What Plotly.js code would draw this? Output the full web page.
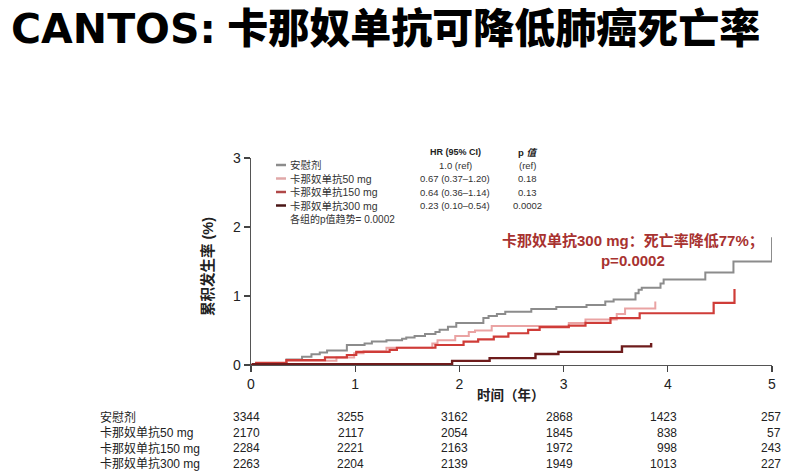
<!DOCTYPE html>
<html>
<head>
<meta charset="utf-8">
<script src="https://cdn.plot.ly/plotly-3.0.1.min.js"></script>
<style>html,body{margin:0;padding:0;background:#fff;}#chart{width:796px;height:475px;}</style>
</head>
<body>
<div id="chart"></div>
<script>
// ---- data ----
const groupNames = ["安慰剂", "卡那奴单抗50 mg", "卡那奴单抗150 mg", "卡那奴单抗300 mg"];
const placeboT = [0, 0.10, 0.34, 0.49, 0.58, 0.66, 0.73, 0.92, 1.09, 1.16, 1.30, 1.45, 1.49, 1.57, 1.67, 1.77, 1.81, 1.89, 1.97, 2.23, 2.28, 2.36, 2.44, 2.69, 2.93, 3.22, 3.40, 3.48, 3.69, 3.72, 3.75, 3.93, 3.96, 4.36, 4.63, 5.00];
const placeboV = [0, 0.02, 0.08, 0.12, 0.155, 0.18, 0.21, 0.29, 0.31, 0.34, 0.36, 0.38, 0.40, 0.42, 0.45, 0.48, 0.51, 0.555, 0.61, 0.68, 0.71, 0.74, 0.77, 0.81, 0.84, 0.87, 0.92, 0.95, 1.04, 1.09, 1.12, 1.18, 1.24, 1.34, 1.50, 1.85];
const dose50T = [0, 0.05, 0.34, 0.82, 0.99, 1.08, 1.30, 1.74, 1.79, 1.96, 2.09, 2.15, 2.31, 3.05, 3.21, 3.51, 3.59, 3.88];
const dose50V = [0, 0.03, 0.06, 0.11, 0.17, 0.20, 0.25, 0.31, 0.36, 0.42, 0.48, 0.50, 0.565, 0.61, 0.66, 0.74, 0.82, 0.92];
const dose150T = [0, 0.05, 0.34, 0.71, 0.92, 1.01, 1.33, 1.40, 1.77, 2.04, 2.18, 2.33, 2.47, 2.66, 2.77, 3.05, 3.21, 3.45, 3.73, 4.44, 4.64];
const dose150V = [0, 0.03, 0.07, 0.11, 0.145, 0.19, 0.22, 0.25, 0.29, 0.34, 0.37, 0.41, 0.46, 0.51, 0.55, 0.57, 0.61, 0.68, 0.75, 0.90, 1.10];
const dose300T = [0, 0.02, 1.93, 2.29, 2.73, 2.95, 3.56, 3.84];
const dose300V = [0, 0.01, 0.06, 0.10, 0.16, 0.19, 0.27, 0.32];
const hrText = ["1.0 (ref)", "0.67 (0.37–1.20)", "0.64 (0.36–1.14)", "0.23 (0.10–0.54)"];
const pText = ["(ref)", "0.18", "0.13", "0.0002"];
const riskTimes = [0, 1, 2, 3, 4, 5];
const riskPlacebo = [3344, 3255, 3162, 2868, 1423, 257];
const risk50 = [2170, 2117, 2054, 1845, 838, 57];
const risk150 = [2284, 2221, 2163, 1972, 998, 243];
const risk300 = [2263, 2204, 2139, 1949, 1013, 227];
const xTicks = [0, 1, 2, 3, 4, 5];
const yTicks = [0, 1, 2, 3];

// ---- styling / layout helpers ----
const colors = ["#8c8c8c", "#eaa3a3", "#cf3c38", "#6e1c1c"];
const legendColors = ["#8c8c8c", "#e0a8a8", "#b04848", "#4a1616"];
const W = 796, H = 475;
const M = {l: 251, r: 24, t: 158, b: 110};
const PW = W - M.l - M.r, PH = H - M.t - M.b;
const px = x => (x - M.l) / PW;
const py = y => 1 - (y - M.t) / PH;
const FONT = "Liberation Sans, Arial, Noto Sans CJK SC, sans-serif";

const series = [[placeboT, placeboV], [dose50T, dose50V], [dose150T, dose150V], [dose300T, dose300V]];
const widths = [2, 2, 2.2, 2.4];
const traces = series.map((s, i) => ({
  x: s[0], y: s[1], type: "scatter", mode: "lines",
  line: {shape: "hv", color: colors[i], width: widths[i]},
  name: groupNames[i], hoverinfo: "skip"
}));

const ann = [];
const shapes = [];
// title
ann.push({xref: "paper", yref: "paper", x: px(9), y: py(29), xanchor: "left", yanchor: "middle",
  text: "<span style='font-family:DejaVu Sans'>CANTOS:</span> 卡那奴单抗可降低肺癌死亡率", showarrow: false,
  font: {family: FONT, size: 41, color: "#000", weight: 900}});
// y title
ann.push({xref: "paper", yref: "paper", x: px(207), y: py(267), xanchor: "center", yanchor: "middle",
  text: "累积发生率 (%)", textangle: -90, showarrow: false,
  font: {family: FONT, size: 14.5, color: "#222", weight: "bold"}});
// x title
ann.push({xref: "paper", yref: "paper", x: px(511), y: py(395), xanchor: "center", yanchor: "middle",
  text: "时间（年）", showarrow: false,
  font: {family: FONT, size: 13.5, color: "#222", weight: "bold"}});
// legend table
const legRows = [165, 178.5, 192, 205.5];
ann.push({xref: "paper", yref: "paper", x: px(455), y: py(152), xanchor: "center", yanchor: "middle",
  text: "HR (95% CI)", showarrow: false, font: {family: FONT, size: 9, color: "#222", weight: "bold"}});
ann.push({xref: "paper", yref: "paper", x: px(527), y: py(152), xanchor: "center", yanchor: "middle",
  text: "p <i>值</i>", showarrow: false, font: {family: FONT, size: 9.5, color: "#222", weight: "bold"}});
groupNames.forEach((g, i) => {
  const yy = legRows[i];
  shapes.push({type: "line", xref: "paper", yref: "paper", x0: px(276), x1: px(286), y0: py(yy), y1: py(yy),
    line: {color: legendColors[i], width: 2.5}});
  ann.push({xref: "paper", yref: "paper", x: px(288), y: py(yy), xanchor: "left", yanchor: "middle",
    text: g, showarrow: false, font: {family: FONT, size: 10.5, color: "#333"}});
  ann.push({xref: "paper", yref: "paper", x: px(455), y: py(yy), xanchor: "center", yanchor: "middle",
    text: hrText[i], showarrow: false, font: {family: FONT, size: 9.5, color: "#333"}});
  ann.push({xref: "paper", yref: "paper", x: px(527), y: py(yy), xanchor: "center", yanchor: "middle",
    text: pText[i], showarrow: false, font: {family: FONT, size: 9.5, color: "#333"}});
});
ann.push({xref: "paper", yref: "paper", x: px(288), y: py(219), xanchor: "left", yanchor: "middle",
  text: "各组的p值趋势= 0.0002", showarrow: false, font: {family: FONT, size: 10, color: "#333"}});
// red callout
ann.push({xref: "paper", yref: "paper", x: px(633), y: py(250), xanchor: "center", yanchor: "middle",
  text: "卡那奴单抗300 mg：死亡率降低77%；<br>p=0.0002", showarrow: false, align: "center",
  font: {family: FONT, size: 15, color: "#a83230", weight: "bold"}});
// risk table
const riskRows = [riskPlacebo, risk50, risk150, risk300];
const riskY = [417, 432.5, 448, 463.5];
riskRows.forEach((row, r) => {
  ann.push({xref: "paper", yref: "paper", x: px(98), y: py(riskY[r]), xanchor: "left", yanchor: "middle",
    text: groupNames[r], showarrow: false, font: {family: FONT, size: 12, color: "#222"}});
  row.forEach((v, k) => {
    ann.push({xref: "x", yref: "paper", x: riskTimes[k], y: py(riskY[r]), xanchor: "right", yanchor: "middle",
      xshift: 11, text: String(v), showarrow: false, font: {family: FONT, size: 12, color: "#222"}});
  });
});

const layout = {
  width: W, height: H, margin: M, showlegend: false,
  paper_bgcolor: "#fff", plot_bgcolor: "#fff",
  xaxis: {range: [0, 5], tickvals: xTicks, ticks: "outside", ticklen: 6, tickcolor: "#444", tickwidth: 1.3,
    showline: true, linecolor: "#555", linewidth: 1.3, showgrid: false, zeroline: false,
    tickfont: {family: FONT, size: 14, color: "#222"}, fixedrange: true},
  yaxis: {range: [0, 3], tickvals: yTicks, ticks: "outside", ticklen: 6, tickcolor: "#444", tickwidth: 1.3,
    showline: true, linecolor: "#555", linewidth: 1.3, showgrid: false, zeroline: false,
    tickfont: {family: FONT, size: 14, color: "#222"}, fixedrange: true},
  annotations: ann, shapes: shapes
};
Plotly.newPlot("chart", traces, layout, {staticPlot: true, displayModeBar: false});
</script>
</body>
</html>
